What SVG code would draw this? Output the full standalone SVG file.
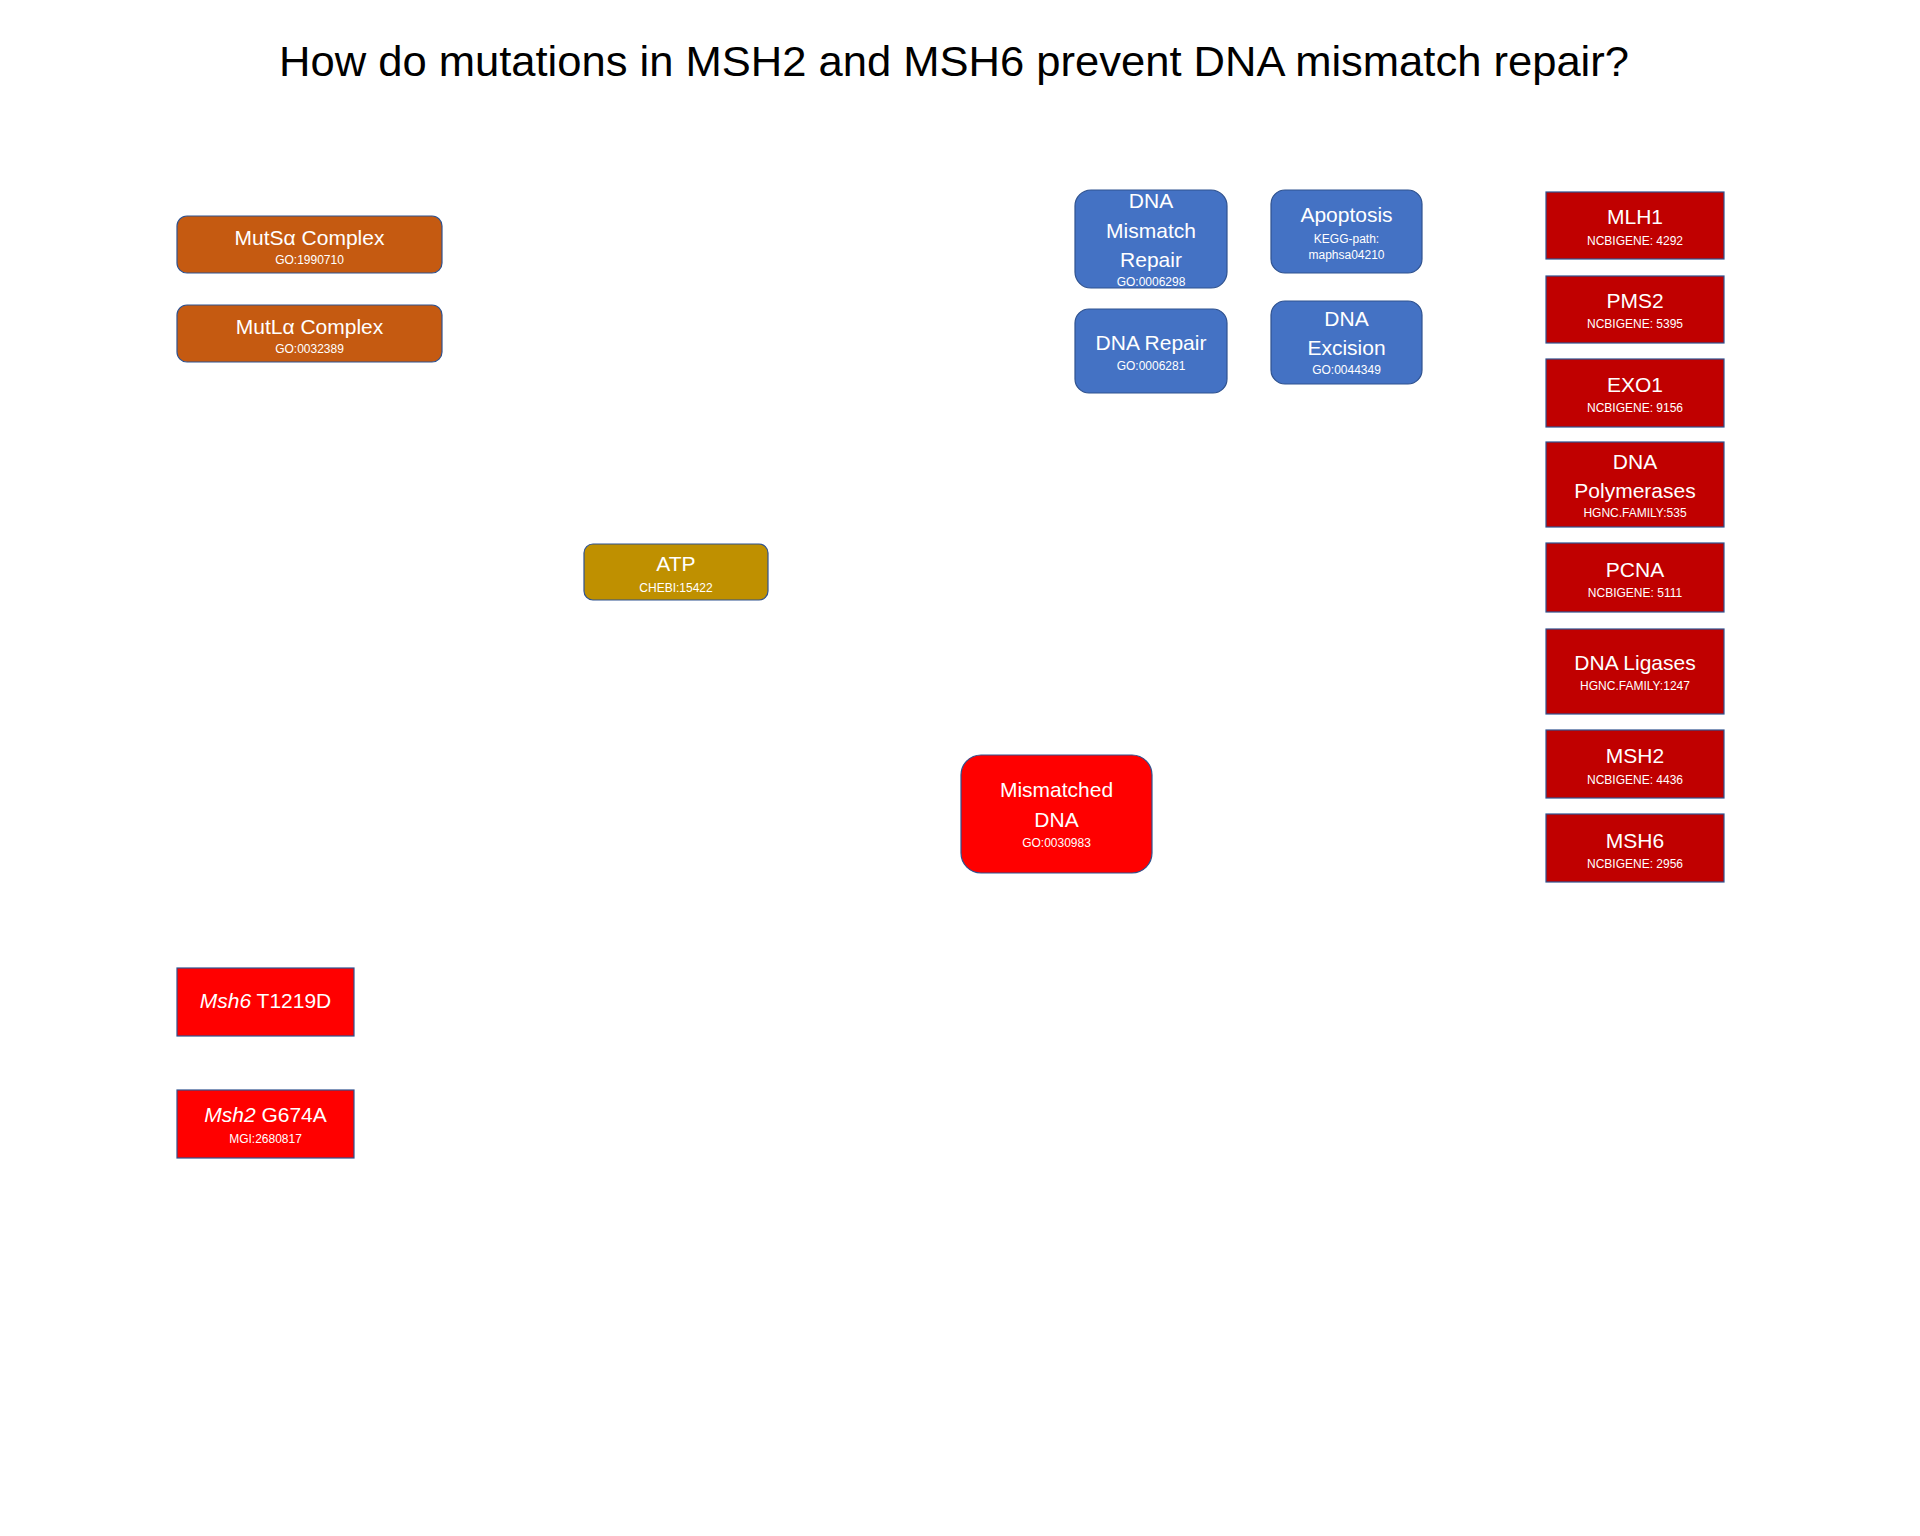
<svg xmlns="http://www.w3.org/2000/svg" width="1920" height="1536" viewBox="0 0 1920 1536">
<style>
.n{stroke:#2F528F;stroke-width:1.2}
.or{fill:#C55A11}.bl{fill:#4472C4}.dr{fill:#C00000}.rd{fill:#FF0000}.at{fill:#BF9000}
text{font-family:"Liberation Sans","Noto Sans",Arial,sans-serif;fill:#fff;text-anchor:middle}
.t{font-size:21px}.s{font-size:12px}
.h{font-size:43px;fill:#000}
</style>
<rect width="1920" height="1536" fill="#fff"/>
<text class="h" x="954" y="76" textLength="1350" lengthAdjust="spacingAndGlyphs">How do mutations in MSH2 and MSH6 prevent DNA mismatch repair?</text>
<g id="connectors"></g>
<g id="mutsa"><rect class="n or" x="177" y="216" width="265" height="57" rx="10"/><text class="t" x="309.5" y="245">MutSα Complex</text><text class="s" x="309.5" y="264">GO:1990710</text></g>
<g id="mutla"><rect class="n or" x="177" y="305" width="265" height="57" rx="10"/><text class="t" x="309.5" y="334">MutLα Complex</text><text class="s" x="309.5" y="353">GO:0032389</text></g>
<g id="dmr"><rect class="n bl" x="1075" y="190" width="152" height="98" rx="16"/><text class="t" x="1151" y="208">DNA</text><text class="t" x="1151" y="238">Mismatch</text><text class="t" x="1151" y="267">Repair</text><text class="s" x="1151" y="286">GO:0006298</text></g>
<g id="apoptosis"><rect class="n bl" x="1271" y="190" width="151" height="83" rx="14"/><text class="t" x="1346.5" y="222">Apoptosis</text><text class="s" x="1346.5" y="243">KEGG-path:</text><text class="s" x="1346.5" y="259">maphsa04210</text></g>
<g id="dnarepair"><rect class="n bl" x="1075" y="309" width="152" height="84" rx="14"/><text class="t" x="1151" y="350">DNA Repair</text><text class="s" x="1151" y="370">GO:0006281</text></g>
<g id="excision"><rect class="n bl" x="1271" y="301" width="151" height="83" rx="14"/><text class="t" x="1346.5" y="326">DNA</text><text class="t" x="1346.5" y="355">Excision</text><text class="s" x="1346.5" y="374">GO:0044349</text></g>
<g id="mlh1"><rect class="n dr" x="1546" y="192" width="178" height="67"/><text class="t" x="1635" y="224">MLH1</text><text class="s" x="1635" y="245">NCBIGENE: 4292</text></g>
<g id="pms2"><rect class="n dr" x="1546" y="276" width="178" height="67"/><text class="t" x="1635" y="308">PMS2</text><text class="s" x="1635" y="328">NCBIGENE: 5395</text></g>
<g id="exo1"><rect class="n dr" x="1546" y="359" width="178" height="68"/><text class="t" x="1635" y="392">EXO1</text><text class="s" x="1635" y="412">NCBIGENE: 9156</text></g>
<g id="pol"><rect class="n dr" x="1546" y="442" width="178" height="85"/><text class="t" x="1635" y="469">DNA</text><text class="t" x="1635" y="498">Polymerases</text><text class="s" x="1635" y="517">HGNC.FAMILY:535</text></g>
<g id="pcna"><rect class="n dr" x="1546" y="543" width="178" height="69"/><text class="t" x="1635" y="577">PCNA</text><text class="s" x="1635" y="597">NCBIGENE: 5111</text></g>
<g id="ligases"><rect class="n dr" x="1546" y="629" width="178" height="85"/><text class="t" x="1635" y="670">DNA Ligases</text><text class="s" x="1635" y="690">HGNC.FAMILY:1247</text></g>
<g id="msh2"><rect class="n dr" x="1546" y="730" width="178" height="68"/><text class="t" x="1635" y="763">MSH2</text><text class="s" x="1635" y="784">NCBIGENE: 4436</text></g>
<g id="msh6"><rect class="n dr" x="1546" y="814" width="178" height="68"/><text class="t" x="1635" y="848">MSH6</text><text class="s" x="1635" y="868">NCBIGENE: 2956</text></g>
<g id="atp"><rect class="n at" x="584" y="544" width="184" height="56" rx="9"/><text class="t" x="676" y="571">ATP</text><text class="s" x="676" y="592">CHEBI:15422</text></g>
<g id="mismatched"><rect class="n rd" x="961" y="755" width="191" height="118" rx="20"/><text class="t" x="1056.5" y="797">Mismatched</text><text class="t" x="1056.5" y="827">DNA</text><text class="s" x="1056.5" y="847">GO:0030983</text></g>
<g id="msh6mut"><rect class="n rd" x="177" y="968" width="177" height="68"/><text class="t" x="265.5" y="1008"><tspan font-style="italic">Msh6</tspan> T1219D</text></g>
<g id="msh2mut"><rect class="n rd" x="177" y="1090" width="177" height="68"/><text class="t" x="265.5" y="1122"><tspan font-style="italic">Msh2</tspan> G674A</text><text class="s" x="265.5" y="1143">MGI:2680817</text></g>
</svg>
